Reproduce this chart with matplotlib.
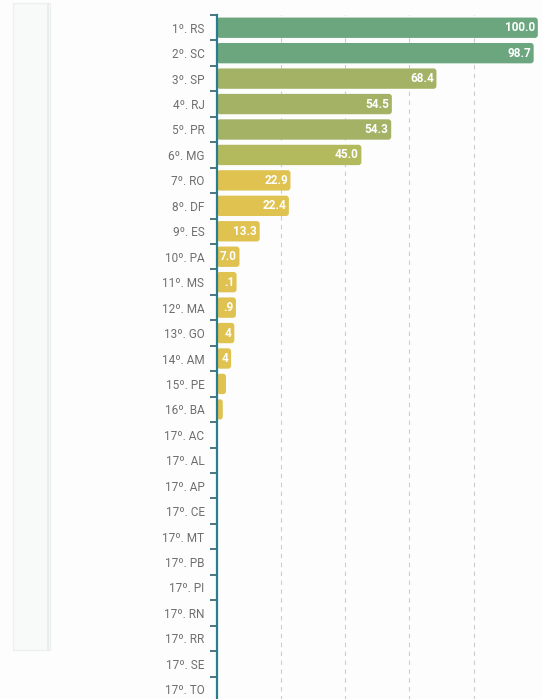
import numpy as np
import matplotlib
matplotlib.use('Agg')
from matplotlib import pyplot as plt
from matplotlib.patches import Rectangle, FancyBboxPatch

states = ['RS', 'SC', 'SP', 'RJ', 'PR', 'MG', 'RO', 'DF', 'ES', 'PA', 'MS', 'MA', 'GO',
          'AM', 'PE', 'BA', 'AC', 'AL', 'AP', 'CE', 'MT', 'PB', 'PI', 'RN', 'RR', 'SE', 'TO']
ranks = [1, 2, 3, 4, 5, 6, 7, 8, 9, 10, 11, 12, 13, 14, 15, 16,
         17, 17, 17, 17, 17, 17, 17, 17, 17, 17, 17]
values = [100.0, 98.7, 68.4, 54.5, 54.3, 45.0, 22.9, 22.4, 13.3, 7.0, 6.1, 5.9, 5.4,
          4.4, 2.8, 1.8, 0, 0, 0, 0, 0, 0, 0, 0, 0, 0, 0]
value_text = ['100.0', '98.7', '68.4', '54.5', '54.3', '45.0', '22.9', '22.4', '13.3', '7.0',
              '.1', '.9', '4', '4', '', '', '', '', '', '', '', '', '', '', '', '', '']

def bar_color(v):
  if v >= 90:
    return '#6ba67f'
  if v >= 50:
    return '#a4b266'
  if v >= 30:
    return '#b3ba5e'
  return '#dfc24f'

plt.rcParams['font.family'] = ['Liberation Sans Narrow', 'Roboto', 'DejaVu Sans']

W, H = 542, 699
fig = plt.figure(figsize=(W/100, H/100), dpi=100)
fig.patch.set_facecolor('#fdfdfd')
# faint side panel on the left
fig.patches.append(Rectangle((13/W, 1-650/H), 37/W, 647/H, transform=fig.transFigure,
                             facecolor='#f8f9f9', edgecolor='#eef0f0', lw=1.0, zorder=0))
fig.patches.append(Rectangle((47/W, 1-650/H), 2/W, 647/H, transform=fig.transFigure,
                             facecolor='#e9eded', edgecolor='none', zorder=0))

ax = fig.add_axes([217/W, -3/H, 1-217/W, (702-15)/H])
ax.set_facecolor('#fdfdfd')
n = len(states)
y = np.arange(n)
colors = [bar_color(v) for v in values]
bars = ax.barh(y, values, height=0.8, color=colors, zorder=3)
ax.set_xlim(0, 101.3)
ax.set_ylim(n-0.5, -0.5)

# swap plain rectangles for rounded ones
for b in bars:
  x0, y0 = b.get_x(), b.get_y()
  w, h = b.get_width(), b.get_height()
  b.set_visible(False)
  if w <= 0:
    continue
  r = min(0.9, w/2)
  ax.add_patch(FancyBboxPatch((x0, y0), w, h, boxstyle=f'round,pad=0,rounding_size={r}',
                              mutation_aspect=0.13, facecolor=b.get_facecolor(),
                              edgecolor='none', zorder=3))

for i in range(n):
  if value_text[i]:
    ax.text(values[i]-0.8, y[i], value_text[i], ha='right', va='center',
            color='white', fontsize=8.5, fontweight='bold', zorder=4)

ax.set_yticks(y)
ax.set_yticklabels([f'{r}º. {s}' for r, s in zip(ranks, states)], fontsize=8.5, color='#6e6e6e')
ax.tick_params(axis='y', length=0, pad=9)
ax.set_yticks(np.arange(n+1)-0.5, minor=True)
ax.tick_params(axis='y', which='minor', length=5, width=1.2, color='#2f5f6a')
ax.set_xticks([20, 40, 60, 80])
ax.tick_params(axis='x', length=0, labelbottom=False)
ax.grid(axis='x', linestyle=(0, (4, 4)), color='#cccccc', lw=0.8, zorder=0)
for s in ['top', 'right', 'bottom']:
  ax.spines[s].set_visible(False)
ax.spines['left'].set_color('#2a7d8c')
ax.spines['left'].set_linewidth(1.6)
ax.spines['left'].set_zorder(5)

fig.savefig('out.png', dpi=100, facecolor=fig.get_facecolor())
